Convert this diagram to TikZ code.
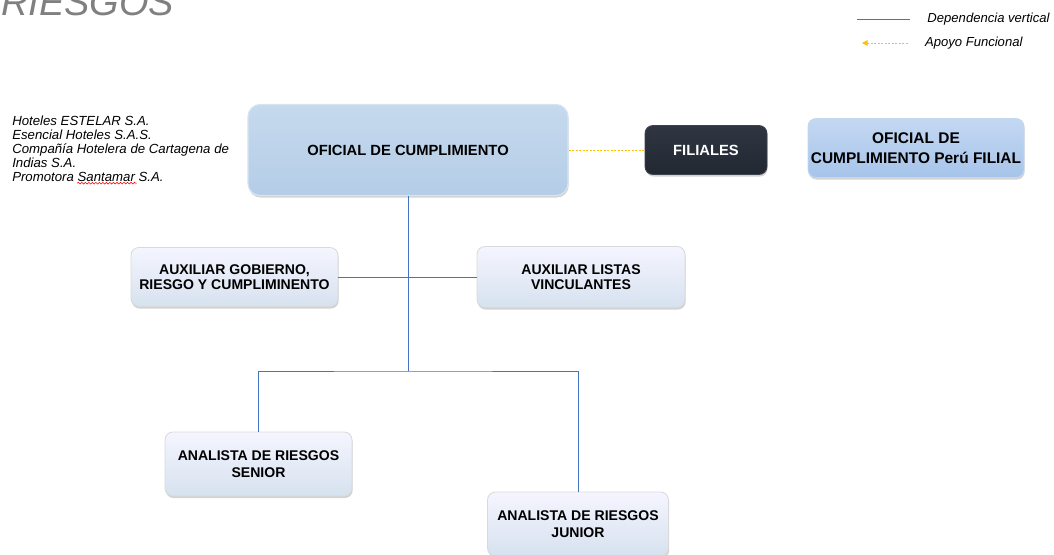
\documentclass[tikz,border=0pt]{standalone}
\usepackage{fontspec}
\setmainfont{Liberation Sans}
\usetikzlibrary{arrows.meta, shadows, positioning, decorations.pathmorphing}
\definecolor{linkblue}{HTML}{4472C4}
\definecolor{supportorange}{HTML}{FFC000}
\definecolor{titlegray}{HTML}{808080}
\tikzset{
    % Head position - light blue bevelled box
    main box/.style={rectangle, rounded corners=0.3cm, draw={rgb,255:red,214;green,228;blue,242}, line width=0.8pt,
        top color={rgb,255:red,198;green,217;blue,237}, bottom color={rgb,255:red,180;green,205;blue,231},
        drop shadow={shadow xshift=0.5pt, shadow yshift=-1.5pt, opacity=0.35},
        font=\bfseries\fontsize{10.5}{12}\selectfont, align=center},
    % Staff positions - pale gradient boxes
    staff box/.style={rectangle, rounded corners=0.2cm, draw=white!70!gray, line width=0.6pt,
        top color=white!96!blue, bottom color={rgb,255:red,214;green,226;blue,239},
        drop shadow={shadow xshift=0.5pt, shadow yshift=-1.5pt, opacity=0.35},
        font=\bfseries\fontsize{10}{10.5}\selectfont, align=center},
    % Subsidiaries - dark box
    dark box/.style={rectangle, rounded corners=0.2cm, draw={rgb,255:red,60;green,66;blue,78}, line width=0.6pt,
        top color={rgb,255:red,48;green,54;blue,65}, bottom color={rgb,255:red,34;green,40;blue,50},
        drop shadow={shadow xshift=0.5pt, shadow yshift=-1.5pt, opacity=0.35},
        text=white, font=\bfseries\fontsize{10.5}{12}\selectfont, align=center},
    % Peru officer - stronger blue box
    filial box/.style={rectangle, rounded corners=0.2cm, draw={rgb,255:red,196;green,214;blue,240}, line width=0.6pt,
        top color={rgb,255:red,196;green,216;blue,242}, bottom color={rgb,255:red,166;green,196;blue,234},
        drop shadow={shadow xshift=0.5pt, shadow yshift=-1.5pt, opacity=0.35},
        font=\bfseries\fontsize{11}{14}\selectfont, align=center, inner xsep=0pt},
    % Vertical dependency - blue line
    dependency/.style={linkblue, line width=0.6pt},
    % Functional support - orange dashed line
    support/.style={supportorange, dashed, dash pattern=on 1.5pt off 1pt, line width=0.6pt},
    % Small italic texts
    legend text/.style={font=\itshape\fontsize{9.3}{10}\selectfont, inner sep=0pt}
}

\begin{document}
\begin{tikzpicture}
    \useasboundingbox (0,0) rectangle (26.35,13.85);

    % --- Title & legend ---
    \node[anchor=base west, inner sep=0pt, text=titlegray, font=\itshape\fontsize{27}{27}\selectfont] (title) at (0.02,13.45) {RIESGOS};

    \coordinate (depL) at (21.425,13.375);
    \coordinate (depR) at (22.75,13.375);
    \draw[dependency] (depL) -- (depR);
    \node[legend text, anchor=west] (depText) at (23.18,13.375) {Dependencia vertical};

    \coordinate (supL) at (21.55,12.775);
    \coordinate (supR) at (22.7,12.775);
    \draw[support, -{Triangle[length=4pt, width=4pt]}] (supR) -- (supL);
    \node[legend text, anchor=west] (supText) at (23.12,12.775) {Apoyo Funcional};

    % --- Companies ---
    \node[legend text, anchor=north west, align=left, font=\itshape\fontsize{9.4}{9.9}\selectfont] (companies) at (0.3,10.96)
        {Hoteles ESTELAR S.A.\\ Esencial Hoteles S.A.S.\\ Compañía Hotelera de Cartagena de\\ Indias S.A.\\ Promotora Santamar S.A.};
    % spell-check mark under Santamar
    \coordinate (wavyL) at (1.93,9.27);
    \coordinate (wavyR) at (3.42,9.27);
    \draw[red, line width=0.4pt, decorate, decoration={snake, amplitude=0.6pt, segment length=2.5pt}] (wavyL) -- (wavyR);

    % --- Positions ---
    \node[main box, minimum width=8cm, minimum height=2.275cm] (oficial) at (10.2,10.1) {OFICIAL DE CUMPLIMIENTO};
    \node[dark box, minimum width=3.05cm, minimum height=1.225cm] (filiales) at (17.65,10.1) {FILIALES};
    \node[filial box, minimum width=5.4cm, minimum height=1.475cm] (peru) at (22.9,10.15) {OFICIAL DE\\CUMPLIMIENTO Perú FILIAL};

    \node[staff box, minimum width=5.175cm, minimum height=1.475cm] (auxGob) at (5.8625,6.925) {AUXILIAR GOBIERNO,\\RIESGO Y CUMPLIMINENTO};
    \node[staff box, minimum width=5.2cm, minimum height=1.525cm] (auxListas) at (14.525,6.925) {AUXILIAR LISTAS\\VINCULANTES};

    \node[staff box, minimum width=4.675cm, minimum height=1.6cm, font=\bfseries\fontsize{10}{12}\selectfont] (senior) at (6.4625,2.25) {ANALISTA DE RIESGOS\\SENIOR};
    \node[staff box, minimum width=4.525cm, minimum height=1.6cm, font=\bfseries\fontsize{10}{12}\selectfont] (junior) at (14.45,0.75) {ANALISTA DE RIESGOS\\JUNIOR};

    % --- Connectors ---
    \coordinate (bus) at (10.2,4.575);
    \draw[dependency] (oficial.south) -- (bus);
    \draw[dependency] (auxGob.east) -- (auxListas.west);
    \draw[dependency] (senior.north) |- (bus) -| (junior.north);
    \draw[support] (oficial.east) -- (filiales.west);

\end{tikzpicture}
\end{document}
